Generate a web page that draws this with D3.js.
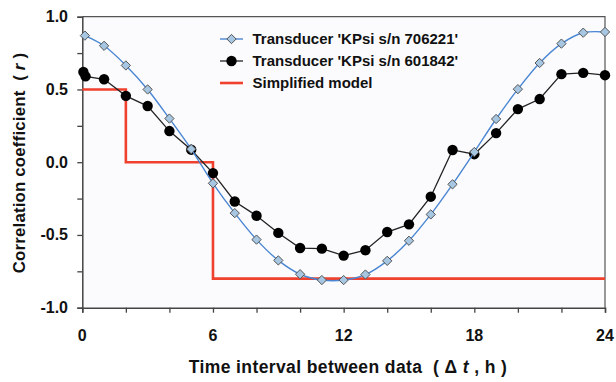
<!DOCTYPE html>
<html><head><meta charset="utf-8">
<script src="https://cdn.jsdelivr.net/npm/d3@7"></script>
<style>
html,body{margin:0;padding:0;background:#fff;}
svg{display:block;font-family:"Liberation Sans",Arial,sans-serif;}
text{white-space:pre;}
</style></head>
<body>
<script>
// ---- data ----
const blueHours = [0.12,1,2,3,4,5,6,7,8,9,10,11,12,13,14,15,16,17,18,19,20,21,22,23,24];
const blueValues = [0.87,0.80,0.665,0.50,0.30,0.09,-0.145,-0.35,-0.532,-0.675,-0.77,-0.81,-0.81,-0.772,-0.678,-0.54,-0.359,-0.152,0.07,0.297,0.502,0.682,0.815,0.89,0.895];
const blackHours = [0.05,0.15,1,2,3,4,5,6,7,8,9,10,11,12,13,14,15,16,17,18,19,20,21,22,23,24];
const blackValues = [0.62,0.59,0.57,0.456,0.386,0.214,0.086,-0.075,-0.27,-0.368,-0.486,-0.59,-0.594,-0.642,-0.605,-0.48,-0.427,-0.237,0.084,0.055,0.2,0.365,0.434,0.605,0.614,0.598];
const modelHours = [0,2,6,24];
const modelValues = [0.5,0,-0.8,-0.8];
const xTicks = [0,6,12,18,24];
const yTicks = [-1.0,-0.5,0.0,0.5,1.0];
const seriesNames = ["Transducer 'KPsi s/n 706221'","Transducer 'KPsi s/n 601842'","Simplified model"];

const W=616,H=382;
const m={l:82.3,r:605,t:16.7,b:307.7};
const svg=d3.select("body").append("svg").attr("width",W).attr("height",H);
const x=d3.scaleLinear().domain([0,24]).range([m.l,m.r]);
const y=d3.scaleLinear().domain([-1,1]).range([m.b,m.t]);

// plot background
svg.append("rect").attr("x",m.l).attr("y",m.t).attr("width",m.r-m.l).attr("height",m.b-m.t).attr("fill","#fbfbfd");
// frame top/right
svg.append("path").attr("d",`M${m.l},${m.t}H${m.r}V${m.b}`).attr("fill","none").attr("stroke","#555").attr("stroke-width",1.2);

// axes
const xAxis=svg.append("g").attr("transform",`translate(0,${m.b})`)
  .call(d3.axisBottom(x).tickValues(d3.range(0,25,2)).tickSize(5).tickFormat(""));
const yAxis=svg.append("g").attr("transform",`translate(${m.l},0)`)
  .call(d3.axisLeft(y).tickValues(d3.range(-1,1.01,0.25)).tickSize(5).tickFormat(""));
[xAxis,yAxis].forEach(a=>{a.select(".domain").attr("stroke","#444").attr("stroke-width",1.5);a.selectAll(".tick line").attr("stroke","#444").attr("stroke-width",1.3);});

svg.append("g").selectAll("text").data(xTicks).join("text")
  .attr("x",d=>x(d)).attr("y",341).attr("text-anchor","middle")
  .attr("font-size",16).attr("font-weight","bold").attr("fill","#111").text(d=>d);
svg.append("g").selectAll("text").data(yTicks).join("text")
  .attr("x",68).attr("y",d=>y(d)+5.5).attr("text-anchor","end")
  .attr("font-size",16).attr("font-weight","bold").attr("fill","#111").text(d=>d.toFixed(1));

// axis titles
const xt=svg.append("text").attr("x",348).attr("y",373).attr("text-anchor","middle")
  .attr("font-size",17.5).attr("letter-spacing",0.4).attr("font-weight","bold").attr("fill","#111");
xt.append("tspan").text("Time interval between data  ( \u0394 ");
xt.append("tspan").attr("font-style","italic").text("t");
xt.append("tspan").text(" , h )");
const yt=svg.append("text").attr("transform","translate(25,163) rotate(-90)").attr("text-anchor","middle")
  .attr("font-size",16.8).attr("letter-spacing",0.2).attr("font-weight","bold").attr("fill","#111");
yt.append("tspan").text("Correlation coefficient  ( ");
yt.append("tspan").attr("font-style","italic").text("r");
yt.append("tspan").text(" )");

// model
const red="#f0402e";
svg.append("path").datum(modelHours.map((h,i)=>[h,modelValues[i]]))
  .attr("d",d3.line().x(d=>x(d[0])).y(d=>y(d[1])).curve(d3.curveStepAfter))
  .attr("fill","none").attr("stroke",red).attr("stroke-width",2.6);

// black series
const blackData=blackHours.map((h,i)=>[h,blackValues[i]]);
svg.append("path").datum(blackData).attr("d",d3.line().x(d=>x(d[0])).y(d=>y(d[1])))
  .attr("fill","none").attr("stroke","#222").attr("stroke-width",1.3);
svg.append("g").selectAll("circle").data(blackData).join("circle")
  .attr("cx",d=>x(d[0])).attr("cy",d=>y(d[1])).attr("r",5.2).attr("fill","#000");

// blue series
const blueData=blueHours.map((h,i)=>[h,blueValues[i]]);
const blueLine="#4a86d2", blueFill="#a6c6e2";
svg.append("path").datum(blueData).attr("d",d3.line().x(d=>x(d[0])).y(d=>y(d[1])).curve(d3.curveCatmullRom.alpha(0.5)))
  .attr("fill","none").attr("stroke",blueLine).attr("stroke-width",1.4);
const dia=d3.symbol().type(d3.symbolDiamond2).size(55);
svg.append("g").selectAll("path").data(blueData).join("path")
  .attr("transform",d=>`translate(${x(d[0])},${y(d[1])})`).attr("d",dia)
  .attr("fill",blueFill).attr("stroke","#555").attr("stroke-width",1);

// legend
const ly=[39,61,83];
const lg=svg.append("g");
lg.append("line").attr("x1",220).attr("x2",243).attr("y1",ly[0]).attr("y2",ly[0]).attr("stroke",blueLine).attr("stroke-width",1.4);
lg.append("path").attr("transform",`translate(231.5,${ly[0]})`).attr("d",dia).attr("fill",blueFill).attr("stroke","#555");
lg.append("line").attr("x1",220).attr("x2",243).attr("y1",ly[1]).attr("y2",ly[1]).attr("stroke","#222").attr("stroke-width",1.3);
lg.append("circle").attr("cx",231.5).attr("cy",ly[1]).attr("r",5.2).attr("fill","#000");
lg.append("line").attr("x1",220).attr("x2",243).attr("y1",ly[2]).attr("y2",ly[2]).attr("stroke",red).attr("stroke-width",2.6);
lg.selectAll("text").data(seriesNames).join("text")
  .attr("x",252.5).attr("y",(d,i)=>ly[i]+5).attr("font-size",15).attr("font-weight","bold").attr("fill","#111").text(d=>d);
</script>
</body></html>
